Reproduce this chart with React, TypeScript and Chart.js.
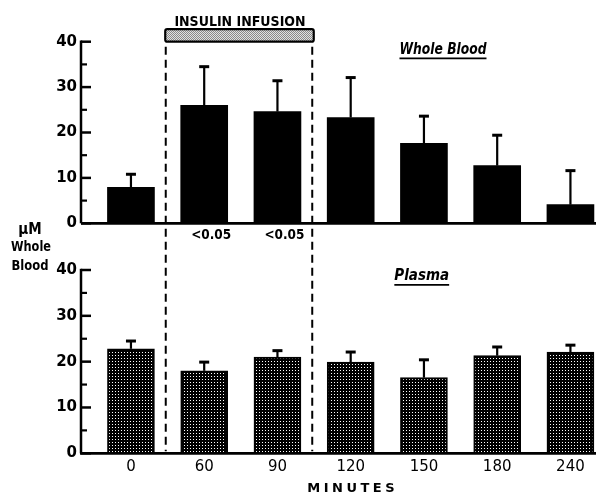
import React, { useEffect, useRef } from "react";
import { Chart, registerables } from "chart.js";

Chart.register(...registerables);

// ---------- data ----------
const minutes = ["0", "60", "90", "120", "150", "180", "240"];
const wholeBloodMean = [7.9, 26.0, 24.6, 23.3, 17.6, 12.7, 4.1];
const wholeBloodSE = [2.9, 8.5, 6.8, 8.8, 6.0, 6.7, 7.5];
const plasmaMean = [22.8, 18.0, 21.0, 19.9, 16.5, 21.3, 22.1];
const plasmaSE = [1.7, 1.9, 1.4, 2.2, 3.9, 1.9, 1.5];
const pLabels = ["", "<0.05", "<0.05", "", "", "", ""];
const yMajorTicks = [0, 10, 20, 30, 40];
const yMinorTicks = [5, 15, 25, 35];
const infusionStart = 0.475; // in category-index units
const infusionEnd = 2.475;

// ---------- layout ----------
const W = 596;
const H = 495;
const AREA_LEFT = 81;
const AREA_TOP = 41.7;
const AREA_BOTTOM = 453.3;
const TOP_ZERO_PX = 223.3;
const BOT_FORTY_PX = 270;
const X_MIN = -0.682;
const X_MAX = 6.349;

const kTop = (TOP_ZERO_PX - AREA_TOP) / 40;
const yTopMin = -(AREA_BOTTOM - TOP_ZERO_PX) / kTop;
const kBot = (AREA_BOTTOM - BOT_FORTY_PX) / 40;
const yBotMax = (AREA_BOTTOM - AREA_TOP) / kBot;

const FONT = "'DejaVu Sans', sans-serif";
const CFONT = "'DejaVu Sans Condensed', 'DejaVu Sans', sans-serif";

function makePattern(size: number, bg: string, fg: string, dots: number[][]) {
  const c = document.createElement("canvas");
  c.width = size;
  c.height = size;
  const g = c.getContext("2d")!;
  g.fillStyle = bg;
  g.fillRect(0, 0, size, size);
  g.fillStyle = fg;
  dots.forEach(([x, y]) => g.fillRect(x, y, 1, 1));
  return g.createPattern(c, "repeat")!;
}

function text(
  ctx: CanvasRenderingContext2D,
  s: string,
  x: number,
  y: number,
  font: string,
  align: CanvasTextAlign = "center",
  maxW?: number,
  underline = false
) {
  ctx.font = font;
  ctx.textAlign = align;
  ctx.textBaseline = "middle";
  const w = Math.min(ctx.measureText(s).width, maxW ?? Infinity);
  if (maxW) ctx.fillText(s, x, y, maxW);
  else ctx.fillText(s, x, y);
  if (underline) {
    const x0 = align === "center" ? x - w / 2 : align === "right" ? x - w : x;
    ctx.lineWidth = 1.6;
    ctx.beginPath();
    ctx.moveTo(x0, y + 8.5);
    ctx.lineTo(x0 + w, y + 8.5);
    ctx.stroke();
  }
}

const overlay = {
  id: "overlay",
  afterDatasetsDraw(chart: any) {
    const ctx: CanvasRenderingContext2D = chart.ctx;
    const xs = chart.scales.x;
    const yT = chart.scales.yTop;
    const yB = chart.scales.yBot;
    const area = chart.chartArea;
    ctx.save();
    ctx.strokeStyle = "#000";
    ctx.fillStyle = "#000";
    ctx.lineCap = "butt";

    // error bars (upward only)
    const sets: [number, number[], any][] = [
      [0, wholeBloodSE, yT],
      [1, plasmaSE, yB],
    ];
    sets.forEach(([di, se, ys]) => {
      const meta = chart.getDatasetMeta(di);
      meta.data.forEach((el: any, i: number) => {
        const v = chart.data.datasets[di].data[i].y + se[i];
        const ye = ys.getPixelForValue(v);
        ctx.lineWidth = 2.2;
        ctx.beginPath();
        ctx.moveTo(el.x, el.y);
        ctx.lineTo(el.x, ye);
        ctx.stroke();
        ctx.lineWidth = 3;
        ctx.beginPath();
        ctx.moveTo(el.x - 5, ye);
        ctx.lineTo(el.x + 5, ye);
        ctx.stroke();
      });
    });

    // y axes for both panels
    [yT, yB].forEach((ys: any) => {
      const y0 = ys.getPixelForValue(0);
      const y40 = ys.getPixelForValue(40);
      ctx.lineWidth = 2.5;
      ctx.beginPath();
      ctx.moveTo(area.left, y40 - 1.2);
      ctx.lineTo(area.left, y0);
      ctx.stroke();
      yMajorTicks.forEach((t) => {
        const y = ys.getPixelForValue(t);
        ctx.lineWidth = 2.5;
        ctx.beginPath();
        ctx.moveTo(area.left, y);
        ctx.lineTo(area.left + 10, y);
        ctx.stroke();
        text(ctx, String(t), area.left - 4, y, `bold 15px ${FONT}`, "right");
      });
      yMinorTicks.forEach((t) => {
        const y = ys.getPixelForValue(t);
        ctx.lineWidth = 2.2;
        ctx.beginPath();
        ctx.moveTo(area.left, y);
        ctx.lineTo(area.left + 6, y);
        ctx.stroke();
      });
    });

    // top panel baseline
    const yT0 = yT.getPixelForValue(0);
    ctx.lineWidth = 2.8;
    ctx.beginPath();
    ctx.moveTo(area.left, yT0);
    ctx.lineTo(area.right, yT0);
    ctx.stroke();

    // dashed infusion lines
    const xa = xs.getPixelForValue(infusionStart);
    const xb = xs.getPixelForValue(infusionEnd);
    ctx.lineWidth = 2;
    ctx.setLineDash([8, 5]);
    [xa, xb].forEach((x) => {
      ctx.beginPath();
      ctx.moveTo(x, area.top + 5);
      ctx.lineTo(x, area.bottom - 2);
      ctx.stroke();
    });
    ctx.setLineDash([]);

    // insulin infusion box
    const boxTop = area.top - 12.5;
    const boxH = 12.5;
    ctx.fillStyle = makePattern(2, "#e2e2e2", "#8a8a8a", [[0, 0], [1, 1]]);
    ctx.beginPath();
    (ctx as any).roundRect(xa - 0.5, boxTop, xb - xa + 2, boxH, 2);
    ctx.fill();
    ctx.lineWidth = 2.2;
    ctx.stroke();
    ctx.fillStyle = "#000";
    text(ctx, "INSULIN INFUSION", (xa + xb) / 2 + 1, boxTop - 7, `bold 14px ${CFONT}`, "center", 134);

    // panel titles
    text(ctx, "Whole Blood", xs.getPixelForValue(4.26), yT.getPixelForValue(38.2), `italic bold 15px ${CFONT}`, "center", 87, true);
    text(ctx, "Plasma", xs.getPixelForValue(3.97), yB.getPixelForValue(38.6), `italic bold 15px ${CFONT}`, "center", 57, true);

    // p-value labels
    pLabels.forEach((p, i) => {
      if (!p) return;
      text(ctx, p, xs.getPixelForValue(i) + 7, yT0 + 12, `bold 14px ${CFONT}`, "center", 40);
    });

    // y-axis title
    text(ctx, "\u03bcM", 30, 230, `bold 15px ${CFONT}`, "center", 25);
    text(ctx, "Whole", 31, 247, `bold 14px ${CFONT}`, "center", 40);
    text(ctx, "Blood", 30, 266, `bold 14px ${CFONT}`, "center", 37);

    // x-axis title
    ctx.font = `bold 13px ${FONT}`;
    (ctx as any).letterSpacing = "3.5px";
    text(ctx, "MINUTES", xs.getPixelForValue(3) + 2, 489, `bold 13px ${FONT}`, "center");
    (ctx as any).letterSpacing = "0px";

    ctx.restore();
  },
};

export default function App() {
  const ref = useRef<HTMLCanvasElement | null>(null);

  useEffect(() => {
    const canvas = ref.current!;
    const stipple = makePattern(3, "#000", "#fff", [[1, 1]]);
    const chart = new Chart(canvas, {
      type: "bar",
      data: {
        datasets: [
          {
            label: "Whole Blood",
            data: wholeBloodMean.map((v, i) => ({ x: i, y: v })),
            yAxisID: "yTop",
            backgroundColor: "#000",
            borderWidth: 0,
            barThickness: 47,
            grouped: false,
          } as any,
          {
            label: "Plasma",
            data: plasmaMean.map((v, i) => ({ x: i, y: v })),
            yAxisID: "yBot",
            backgroundColor: stipple,
            borderColor: "#000",
            borderWidth: 2,
            barThickness: 47,
            grouped: false,
          } as any,
        ],
      },
      options: {
        animation: false,
        responsive: false,
        maintainAspectRatio: false,
        events: [],
        layout: { padding: { left: AREA_LEFT, top: AREA_TOP, right: 0, bottom: 0 } },
        plugins: { legend: { display: false }, tooltip: { enabled: false } },
        scales: {
          x: {
            type: "linear",
            offset: false,
            min: X_MIN,
            max: X_MAX,
            grid: { display: false, drawTicks: false, offset: false },
            border: { display: true, color: "#000", width: 2.8 },
            afterBuildTicks: (s: any) => {
              s.ticks = minutes.map((_, i) => ({ value: i }));
            },
            afterFit: (s: any) => {
              s.height = H - AREA_BOTTOM;
            },
            ticks: {
              color: "#000",
              padding: 5,
              maxRotation: 0,
              autoSkip: false,
              font: { family: FONT, size: 15 },
              callback: (v: any) => minutes[v] ?? "",
            },
          } as any,
          yTop: {
            type: "linear",
            display: false,
            min: yTopMin,
            max: 40,
          },
          yBot: {
            type: "linear",
            display: false,
            min: 0,
            max: yBotMax,
          },
        },
      },
      plugins: [overlay],
    });
    return () => chart.destroy();
  }, []);

  return (
    <div style={{ position: "fixed", left: 0, top: 0, width: W, height: H, background: "#fff" }}>
      <canvas ref={ref} width={W} height={H} style={{ width: W, height: H, display: "block" }} />
    </div>
  );
}
